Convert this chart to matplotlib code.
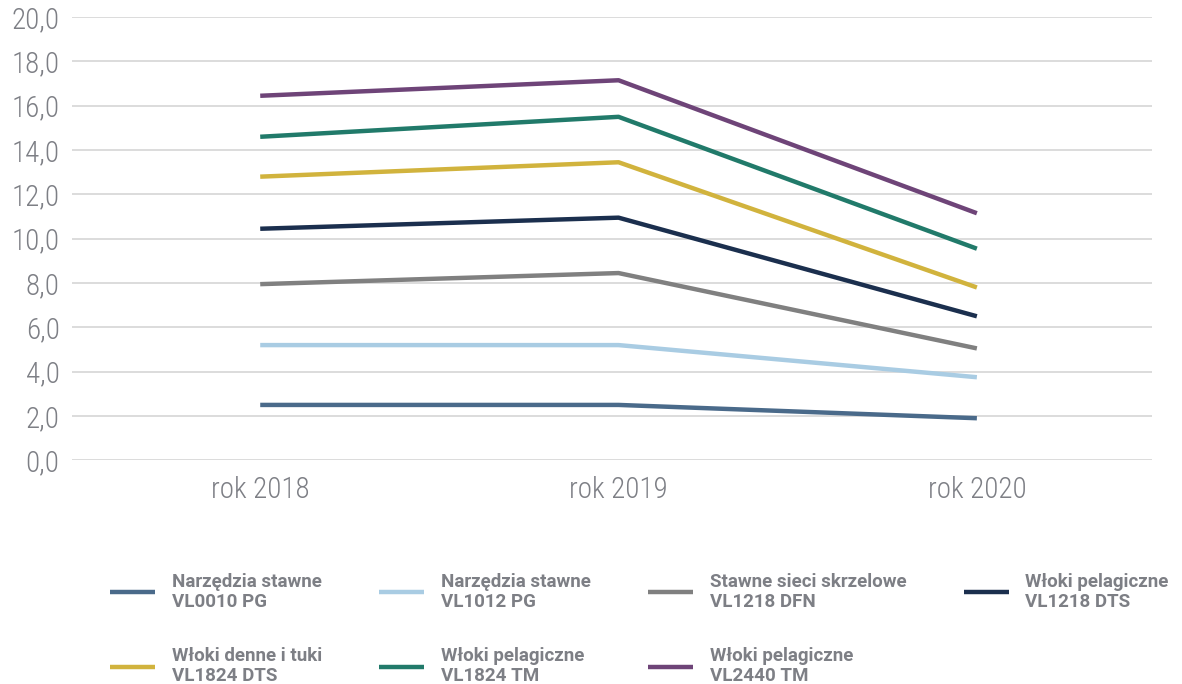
import matplotlib.pyplot as plt
import numpy as np

years = ['rok 2018', 'rok 2019', 'rok 2020']
labels = ['Narzędzia stawne\nVL0010 PG', 'Narzędzia stawne\nVL1012 PG',
          'Stawne sieci skrzelowe\nVL1218 DFN', 'Włoki pelagiczne\nVL1218 DTS',
          'Włoki denne i tuki\nVL1824 DTS', 'Włoki pelagiczne\nVL1824 TM',
          'Włoki pelagiczne\nVL2440 TM']
vl0010_pg = [2.5, 2.5, 1.9]
vl1012_pg = [5.2, 5.2, 3.75]
vl1218_dfn = [7.95, 8.45, 5.05]
vl1218_dts = [10.45, 10.95, 6.5]
vl1824_dts = [12.8, 13.45, 7.8]
vl1824_tm = [14.6, 15.5, 9.55]
vl2440_tm = [16.45, 17.15, 11.15]
series = [vl0010_pg, vl1012_pg, vl1218_dfn, vl1218_dts, vl1824_dts, vl1824_tm, vl2440_tm]
colors = ['#4a6a8a', '#a9cce3', '#808080', '#1b2f4e', '#d1b33d', '#217a6a', '#6e4478']

grey = '#7d7f85'
fig = plt.figure(figsize=(11.82, 6.84), dpi=100)
ax = fig.add_axes([0.061, 0.327, 0.914, 0.648])

x = np.arange(len(years))
lines = []
for vals, lab, col in zip(series, labels, colors):
    ln, = ax.plot(x, vals, color=col, lw=3.2, label=lab, solid_capstyle='butt')
    lines.append(ln)

ax.set_ylim(0, 20)
ax.set_xlim(-0.525, 2.49)
ax.set_yticks(np.arange(0, 21, 2))
ax.set_yticklabels([f'{v:.1f}'.replace('.', ',') for v in np.arange(0, 21, 2)])
ax.set_xticks(x)
ax.set_xticklabels(years)
ax.grid(axis='y', color='#d9d9d9', lw=1.3)
ax.set_axisbelow(True)
for s in ax.spines.values():
    s.set_visible(False)
ax.tick_params(length=0, labelsize=21, colors=grey)
ax.tick_params(axis='y', pad=9)
ax.tick_params(axis='x', pad=11)
for t in ax.get_xticklabels() + ax.get_yticklabels():
    t.set_fontfamily(['Roboto Condensed', 'Liberation Sans Narrow', 'DejaVu Sans'])
    t.set_fontweight('light')

order = [0, 4, 1, 5, 2, 6, 3]
leg = fig.legend([lines[i] for i in order], [labels[i] for i in order],
                 ncol=4, loc='upper left', bbox_to_anchor=(0.0785, 0.187),
                 frameon=False, handlelength=2.4, handletextpad=0.9,
                 columnspacing=3.05, labelspacing=1.92,
                 prop={'family': ['Roboto', 'DejaVu Sans'], 'weight': 'bold', 'size': 13.5})
for t in leg.get_texts():
    t.set_color(grey)
    t.set_linespacing(1.15)

fig.savefig('out.png', dpi=100)
